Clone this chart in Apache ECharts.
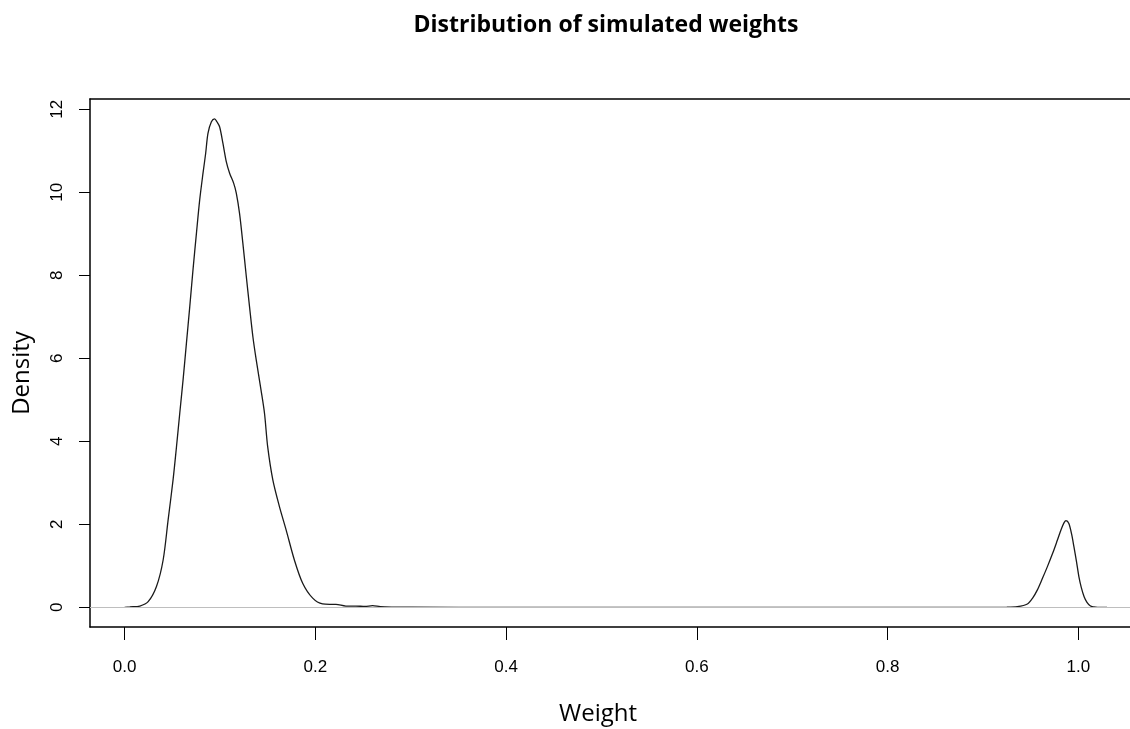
<!DOCTYPE html>
<html><head><meta charset="utf-8">
<script src="https://cdn.jsdelivr.net/npm/echarts@6/dist/echarts.min.js"></script>
<style>html,body{margin:0;padding:0;background:#fff;overflow:hidden;}#c{width:1130px;height:729px;}</style>
</head><body><div id="c"></div>
<script>
// Density curve
const weightX = [0.000,0.0055,0.016,0.0247,0.0334,0.0404,0.0456,0.0508,0.0544,0.0578,0.0613,0.0648,0.0683,0.0717,0.0753,0.0787,0.0822,0.085,0.0874,0.091,0.0944,0.0968,0.0996,0.1031,0.1066,0.1101,0.1143,0.1171,0.1205,0.124,0.1276,0.131,0.1345,0.138,0.143,0.1467,0.150,0.1554,0.1624,0.1694,0.178,0.1867,0.1972,0.2076,0.2150,0.2216,0.232,0.2425,0.2520,0.2600,0.2680,0.280,0.300,0.400,0.500,0.600,0.700,0.800,0.900,0.925,0.936,0.9465,0.952,0.957,0.962,0.9675,0.973,0.978,0.982,0.985,0.987,0.990,0.993,0.9953,0.998,1.0005,1.003,1.006,1.009,1.0127,1.016,1.020,1.030];
const densityY = [0.00,0.01,0.03,0.135,0.50,1.14,2.10,3.07,3.87,4.67,5.48,6.36,7.24,8.13,9.01,9.81,10.46,10.94,11.42,11.70,11.77,11.70,11.58,11.18,10.74,10.46,10.22,9.98,9.49,8.77,7.97,7.24,6.52,5.96,5.24,4.67,3.87,3.07,2.42,1.86,1.14,0.58,0.22,0.08,0.07,0.07,0.03,0.03,0.02,0.04,0.015,0.005,0.001,0.000,0.000,0.000,0.000,0.000,0.000,0.002,0.015,0.08,0.22,0.42,0.68,0.98,1.30,1.62,1.88,2.04,2.09,2.02,1.75,1.46,1.10,0.74,0.48,0.255,0.12,0.03,0.01,0.00,0.00];
const xTicks = [0.0,0.2,0.4,0.6,0.8,1.0];
const yTicks = [0,2,4,6,8,10,12];
const titleText = 'Distribution of simulated weights';
const xName = 'Weight';
const yName = 'Density';

const pts = weightX.map((x,i)=>[x,densityY[i]]);
const chart = echarts.init(document.getElementById('c'), null, {renderer:'canvas'});
const xMin = -0.03628, xMax = 1.0541;
chart.setOption({
  animation:false,
  backgroundColor:'#fff',
  title:{text:titleText,left:601,top:9,textAlign:'center',
    textStyle:{fontFamily:'Open Sans',fontWeight:'bold',fontSize:23,color:'#000'}},
  grid:{left:90,top:99,width:1043,height:528,show:false},
  xAxis:[{type:'value',min:xMin,max:xMax,position:'bottom',
    axisLine:{show:true,onZero:false,lineStyle:{color:'#000',width:1.5}},
    axisTick:{show:true,length:13,customValues:xTicks,lineStyle:{color:'#000',width:1}},
    axisLabel:{customValues:xTicks,formatter:v=>v.toFixed(1),margin:32,
      fontFamily:'Liberation Sans',fontSize:17,color:'#000'},
    splitLine:{show:false}},
    {type:'value',min:xMin,max:xMax,position:'top',
    axisLine:{show:true,onZero:false,lineStyle:{color:'#000',width:1.5}},
    axisTick:{show:false},axisLabel:{show:false},splitLine:{show:false}}],
  yAxis:{type:'value',min:-0.4747,max:12.248,
    axisLine:{show:true,onZero:false,lineStyle:{color:'#000',width:1.5}},
    axisTick:{show:true,length:11,customValues:yTicks,lineStyle:{color:'#000',width:1}},
    axisLabel:{customValues:yTicks,formatter:v=>String(v),rotate:90,margin:24,
      fontFamily:'Liberation Sans',fontSize:17,color:'#000'},
    splitLine:{show:false}},
  graphic:[
    {type:'text',x:22,y:373,rotation:Math.PI/2,style:{text:yName,fontFamily:'Open Sans',fontSize:24,fill:'#000',align:'center',verticalAlign:'middle'}},
    {type:'text',x:598,y:714,style:{text:xName,fontFamily:'Open Sans',fontSize:24,fill:'#000',align:'center',verticalAlign:'middle'}}
  ],
  series:[
    {type:'line',data:pts,showSymbol:false,smooth:0.3,z:3,
      lineStyle:{color:'#1a1a1a',width:1.3},
      markLine:{silent:true,symbol:'none',label:{show:false},
        lineStyle:{color:'#bebebe',width:1.2,type:'solid'},data:[{yAxis:0}]}}
  ]
});
</script></body></html>
